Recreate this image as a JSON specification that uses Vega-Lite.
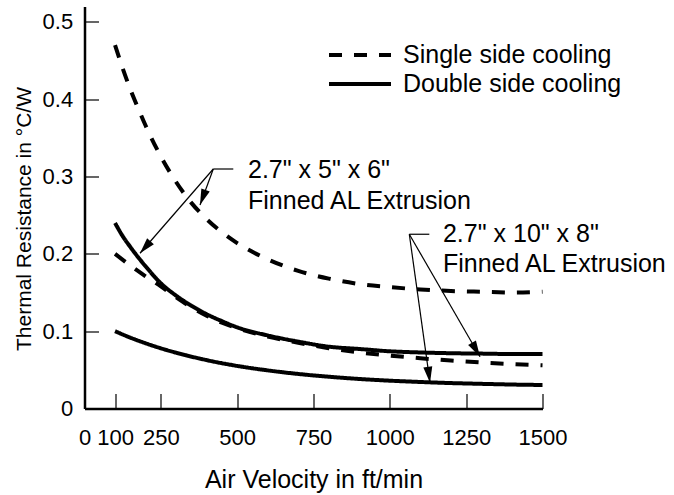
{
  "$schema": "https://vega.github.io/schema/vega-lite/v6.json",
  "autosize": {"type": "none"},
  "padding": {"left": 84.5, "top": 6.5, "right": 131.5, "bottom": 86.5},
  "width": 458,
  "height": 402,
  "background": "white",
  "config": {
    "view": {"stroke": null},
    "font": "Liberation Sans",
    "axis": {
      "grid": false,
      "domainColor": "black",
      "domainWidth": 2.5,
      "tickColor": "black",
      "tickWidth": 1.2,
      "labelColor": "black",
      "titleColor": "black",
      "labelFont": "Liberation Sans",
      "titleFont": "Liberation Sans",
      "titleFontWeight": "normal",
      "labelFontSize": 22,
      "titleFontSize": 25
    }
  },
  "datasets": {
    "curves": [
      {"series": "s1", "cooling": "Single side cooling", "v": 100, "r": 0.470},
      {"series": "s1", "cooling": "Single side cooling", "v": 125, "r": 0.440},
      {"series": "s1", "cooling": "Single side cooling", "v": 150, "r": 0.413},
      {"series": "s1", "cooling": "Single side cooling", "v": 175, "r": 0.389},
      {"series": "s1", "cooling": "Single side cooling", "v": 200, "r": 0.366},
      {"series": "s1", "cooling": "Single side cooling", "v": 250, "r": 0.326},
      {"series": "s1", "cooling": "Single side cooling", "v": 300, "r": 0.293},
      {"series": "s1", "cooling": "Single side cooling", "v": 350, "r": 0.266},
      {"series": "s1", "cooling": "Single side cooling", "v": 400, "r": 0.245},
      {"series": "s1", "cooling": "Single side cooling", "v": 450, "r": 0.228},
      {"series": "s1", "cooling": "Single side cooling", "v": 500, "r": 0.214},
      {"series": "s1", "cooling": "Single side cooling", "v": 600, "r": 0.193},
      {"series": "s1", "cooling": "Single side cooling", "v": 700, "r": 0.178},
      {"series": "s1", "cooling": "Single side cooling", "v": 800, "r": 0.168},
      {"series": "s1", "cooling": "Single side cooling", "v": 900, "r": 0.161},
      {"series": "s1", "cooling": "Single side cooling", "v": 1000, "r": 0.157},
      {"series": "s1", "cooling": "Single side cooling", "v": 1100, "r": 0.154},
      {"series": "s1", "cooling": "Single side cooling", "v": 1200, "r": 0.152},
      {"series": "s1", "cooling": "Single side cooling", "v": 1300, "r": 0.151},
      {"series": "s1", "cooling": "Single side cooling", "v": 1400, "r": 0.150},
      {"series": "s1", "cooling": "Single side cooling", "v": 1500, "r": 0.151},
      {"series": "s2", "cooling": "Single side cooling", "v": 100, "r": 0.200},
      {"series": "s2", "cooling": "Single side cooling", "v": 150, "r": 0.185},
      {"series": "s2", "cooling": "Single side cooling", "v": 200, "r": 0.171},
      {"series": "s2", "cooling": "Single side cooling", "v": 250, "r": 0.158},
      {"series": "s2", "cooling": "Single side cooling", "v": 300, "r": 0.144},
      {"series": "s2", "cooling": "Single side cooling", "v": 350, "r": 0.131},
      {"series": "s2", "cooling": "Single side cooling", "v": 400, "r": 0.120},
      {"series": "s2", "cooling": "Single side cooling", "v": 450, "r": 0.111},
      {"series": "s2", "cooling": "Single side cooling", "v": 500, "r": 0.104},
      {"series": "s2", "cooling": "Single side cooling", "v": 600, "r": 0.093},
      {"series": "s2", "cooling": "Single side cooling", "v": 700, "r": 0.085},
      {"series": "s2", "cooling": "Single side cooling", "v": 800, "r": 0.078},
      {"series": "s2", "cooling": "Single side cooling", "v": 900, "r": 0.0725},
      {"series": "s2", "cooling": "Single side cooling", "v": 1000, "r": 0.0685},
      {"series": "s2", "cooling": "Single side cooling", "v": 1100, "r": 0.065},
      {"series": "s2", "cooling": "Single side cooling", "v": 1200, "r": 0.062},
      {"series": "s2", "cooling": "Single side cooling", "v": 1300, "r": 0.0595},
      {"series": "s2", "cooling": "Single side cooling", "v": 1400, "r": 0.0575},
      {"series": "s2", "cooling": "Single side cooling", "v": 1500, "r": 0.056},
      {"series": "d1", "cooling": "Double side cooling", "v": 100, "r": 0.240},
      {"series": "d1", "cooling": "Double side cooling", "v": 125, "r": 0.223},
      {"series": "d1", "cooling": "Double side cooling", "v": 150, "r": 0.209},
      {"series": "d1", "cooling": "Double side cooling", "v": 175, "r": 0.196},
      {"series": "d1", "cooling": "Double side cooling", "v": 200, "r": 0.184},
      {"series": "d1", "cooling": "Double side cooling", "v": 250, "r": 0.162},
      {"series": "d1", "cooling": "Double side cooling", "v": 300, "r": 0.146},
      {"series": "d1", "cooling": "Double side cooling", "v": 350, "r": 0.133},
      {"series": "d1", "cooling": "Double side cooling", "v": 400, "r": 0.122},
      {"series": "d1", "cooling": "Double side cooling", "v": 450, "r": 0.113},
      {"series": "d1", "cooling": "Double side cooling", "v": 500, "r": 0.105},
      {"series": "d1", "cooling": "Double side cooling", "v": 600, "r": 0.0945},
      {"series": "d1", "cooling": "Double side cooling", "v": 700, "r": 0.0865},
      {"series": "d1", "cooling": "Double side cooling", "v": 800, "r": 0.080},
      {"series": "d1", "cooling": "Double side cooling", "v": 900, "r": 0.077},
      {"series": "d1", "cooling": "Double side cooling", "v": 1000, "r": 0.074},
      {"series": "d1", "cooling": "Double side cooling", "v": 1100, "r": 0.0725},
      {"series": "d1", "cooling": "Double side cooling", "v": 1200, "r": 0.0715},
      {"series": "d1", "cooling": "Double side cooling", "v": 1300, "r": 0.071},
      {"series": "d1", "cooling": "Double side cooling", "v": 1400, "r": 0.0705},
      {"series": "d1", "cooling": "Double side cooling", "v": 1500, "r": 0.0705},
      {"series": "d2", "cooling": "Double side cooling", "v": 100, "r": 0.100},
      {"series": "d2", "cooling": "Double side cooling", "v": 150, "r": 0.0917},
      {"series": "d2", "cooling": "Double side cooling", "v": 200, "r": 0.0844},
      {"series": "d2", "cooling": "Double side cooling", "v": 250, "r": 0.0779},
      {"series": "d2", "cooling": "Double side cooling", "v": 300, "r": 0.0722},
      {"series": "d2", "cooling": "Double side cooling", "v": 400, "r": 0.0626},
      {"series": "d2", "cooling": "Double side cooling", "v": 500, "r": 0.0551},
      {"series": "d2", "cooling": "Double side cooling", "v": 600, "r": 0.0493},
      {"series": "d2", "cooling": "Double side cooling", "v": 700, "r": 0.0447},
      {"series": "d2", "cooling": "Double side cooling", "v": 800, "r": 0.0411},
      {"series": "d2", "cooling": "Double side cooling", "v": 900, "r": 0.0382},
      {"series": "d2", "cooling": "Double side cooling", "v": 1000, "r": 0.036},
      {"series": "d2", "cooling": "Double side cooling", "v": 1100, "r": 0.0343},
      {"series": "d2", "cooling": "Double side cooling", "v": 1200, "r": 0.0329},
      {"series": "d2", "cooling": "Double side cooling", "v": 1300, "r": 0.0319},
      {"series": "d2", "cooling": "Double side cooling", "v": 1400, "r": 0.031},
      {"series": "d2", "cooling": "Double side cooling", "v": 1500, "r": 0.0304}
    ],
    "segments": [
      {"seg": "leader1", "x": 421.8, "y": 0.3098, "x2": 487.3, "y2": 0.3098},
      {"seg": "1a", "x": 421.8, "y": 0.3098, "x2": 378.3, "y2": 0.2633},
      {"seg": "1b", "x": 421.8, "y": 0.3098, "x2": 181.8, "y2": 0.2008},
      {"seg": "leader2", "x": 1063.8, "y": 0.2254, "x2": 1129.3, "y2": 0.2254},
      {"seg": "2a", "x": 1063.8, "y": 0.2254, "x2": 1131.6, "y2": 0.0334},
      {"seg": "2b", "x": 1063.8, "y": 0.2254, "x2": 1295.4, "y2": 0.067}
    ],
    "tips": [
      {"tip": "1a", "x": 378.3, "y": 0.2633},
      {"tip": "1b", "x": 181.8, "y": 0.2008},
      {"tip": "2a", "x": 1131.6, "y": 0.0334},
      {"tip": "2b", "x": 1295.4, "y": 0.067}
    ],
    "notes": [
      {"text": "2.7\" x 5\" x 6\"", "x": 535.5, "y": 0.298},
      {"text": "Finned AL Extrusion", "x": 535.5, "y": 0.258},
      {"text": "2.7\" x 10\" x 8\"", "x": 1174, "y": 0.2154},
      {"text": "Finned AL Extrusion", "x": 1174, "y": 0.1766}
    ]
  },
  "layer": [
    {
      "data": {"name": "curves"},
      "mark": {"type": "line", "interpolate": "monotone", "strokeWidth": 4, "color": "black"},
      "encoding": {
        "x": {
          "field": "v", "type": "quantitative",
          "title": "Air Velocity in ft/min",
          "scale": {"domain": [0, 1500], "nice": false, "zero": false},
          "axis": {
            "values": [0, 100, 250, 500, 750, 1000, 1250, 1500],
            "format": "d",
            "tickSize": -15,
            "labelPadding": 33.5,
            "titlePadding": 19,
            "labelFlush": false,
            "labelOverlap": false
          }
        },
        "y": {
          "field": "r", "type": "quantitative",
          "title": "Thermal Resistance in °C/W",
          "scale": {"domain": [0, 0.52], "nice": false, "zero": false},
          "axis": {
            "values": [0, 0.1, 0.2, 0.3, 0.4, 0.5],
            "format": "~g",
            "tickSize": -14,
            "labelPadding": 25.8,
            "titlePadding": 8,
            "titleFontSize": 21,
            "titleY": 212,
            "labelFlush": false,
            "labelOverlap": false
          }
        },
        "strokeDash": {
          "field": "cooling", "type": "nominal",
          "scale": {"domain": ["Single side cooling", "Double side cooling"], "range": [[13, 12], [1, 0]]},
          "legend": {
            "orient": "none",
            "legendX": 242.5,
            "legendY": 34,
            "title": null,
            "padding": 0,
            "symbolType": "stroke",
            "symbolSize": 3844,
            "symbolStrokeWidth": 4,
            "symbolStrokeColor": "black",
            "labelFontSize": 25,
            "labelFont": "Liberation Sans",
            "labelColor": "black",
            "labelOffset": 10,
            "labelLimit": 0,
            "clipHeight": 29,
            "rowPadding": 0
          }
        },
        "detail": {"field": "series"}
      }
    },
    {
      "data": {"name": "segments"},
      "mark": {"type": "rule", "strokeWidth": 1.2, "color": "black"},
      "encoding": {
        "x": {"field": "x", "type": "quantitative", "title": "Air Velocity in ft/min"},
        "y": {"field": "y", "type": "quantitative", "title": "Thermal Resistance in °C/W"},
        "x2": {"field": "x2"},
        "y2": {"field": "y2"}
      }
    },
    {
      "data": {"name": "tips"},
      "transform": [{"filter": "datum.tip === '1a'"}],
      "mark": {"type": "point", "shape": "M0,0 L-0.28,-1 L0.28,-1 Z", "filled": true, "size": 1024, "angle": 20.3, "color": "black", "opacity": 1, "strokeWidth": 0},
      "encoding": {
        "x": {"field": "x", "type": "quantitative", "title": "Air Velocity in ft/min"},
        "y": {"field": "y", "type": "quantitative", "title": "Thermal Resistance in °C/W"}
      }
    },
    {
      "data": {"name": "tips"},
      "transform": [{"filter": "datum.tip === '1b'"}],
      "mark": {"type": "point", "shape": "M0,0 L-0.28,-1 L0.28,-1 Z", "filled": true, "size": 1024, "angle": 41, "color": "black", "opacity": 1, "strokeWidth": 0},
      "encoding": {
        "x": {"field": "x", "type": "quantitative", "title": "Air Velocity in ft/min"},
        "y": {"field": "y", "type": "quantitative", "title": "Thermal Resistance in °C/W"}
      }
    },
    {
      "data": {"name": "tips"},
      "transform": [{"filter": "datum.tip === '2a'"}],
      "mark": {"type": "point", "shape": "M0,0 L-0.28,-1 L0.28,-1 Z", "filled": true, "size": 1024, "angle": -7.9, "color": "black", "opacity": 1, "strokeWidth": 0},
      "encoding": {
        "x": {"field": "x", "type": "quantitative", "title": "Air Velocity in ft/min"},
        "y": {"field": "y", "type": "quantitative", "title": "Thermal Resistance in °C/W"}
      }
    },
    {
      "data": {"name": "tips"},
      "transform": [{"filter": "datum.tip === '2b'"}],
      "mark": {"type": "point", "shape": "M0,0 L-0.28,-1 L0.28,-1 Z", "filled": true, "size": 1024, "angle": -30, "color": "black", "opacity": 1, "strokeWidth": 0},
      "encoding": {
        "x": {"field": "x", "type": "quantitative", "title": "Air Velocity in ft/min"},
        "y": {"field": "y", "type": "quantitative", "title": "Thermal Resistance in °C/W"}
      }
    },
    {
      "data": {"name": "notes"},
      "mark": {"type": "text", "align": "left", "baseline": "alphabetic", "fontSize": 25, "font": "Liberation Sans", "color": "black"},
      "encoding": {
        "x": {"field": "x", "type": "quantitative", "title": "Air Velocity in ft/min"},
        "y": {"field": "y", "type": "quantitative", "title": "Thermal Resistance in °C/W"},
        "text": {"field": "text"}
      }
    }
  ]
}
